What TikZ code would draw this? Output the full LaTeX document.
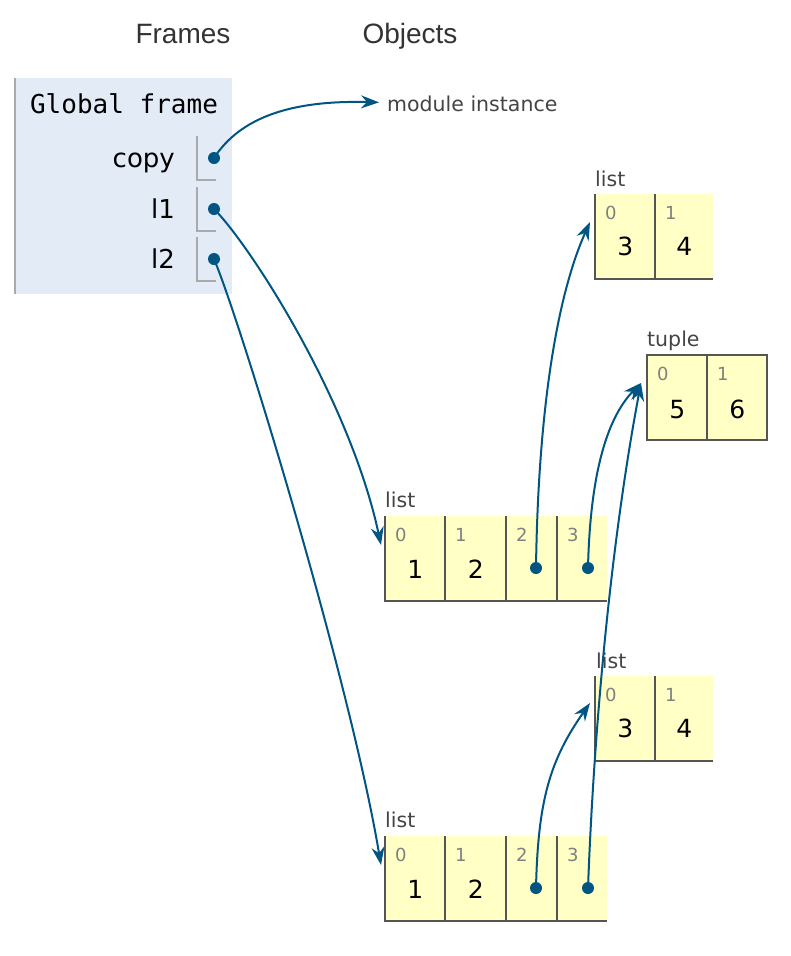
\documentclass[tikz,border=0pt]{standalone}
\usepackage{fontspec}
\setmainfont{DejaVu Sans}
\setmonofont{DejaVu Sans Mono}
\newfontfamily\headfont{Liberation Sans}
\usepackage{tikz}
\usetikzlibrary{positioning}
\usetikzlibrary{arrows.meta,calc}

\definecolor{framebg}{HTML}{E2EBF6}
\definecolor{cellbg}{HTML}{FFFFC6}
\definecolor{cellline}{HTML}{555555}
\definecolor{slotline}{HTML}{AAAAAA}
\definecolor{idxgray}{HTML}{808080}
\definecolor{typegray}{HTML}{444444}
\definecolor{ptrblue}{HTML}{005583}

\begin{document}
\begin{tikzpicture}[x=1pt, y=-1pt,
    every node/.style={inner sep=0pt},
    heading/.style={font=\headfont\fontsize{28}{32}\selectfont, text=black!80, anchor=base},
    varname/.style={font=\fontsize{26}{30}\selectfont, anchor=base east},
    typelabel/.style={font=\fontsize{20.5}{24}\selectfont, text=typegray, anchor=base west},
    cell/.style={fill=cellbg, minimum height=85pt, anchor=north west},
    idx/.style={font=\fontsize{18}{20}\selectfont, text=idxgray, anchor=base west},
    val/.style={font=\fontsize{25}{28}\selectfont, anchor=base},
    dot/.style={circle, fill=ptrblue, minimum size=12pt},
    box/.style={cellline, line width=2pt},
    ref/.style={ptrblue, line width=2pt, -{Stealth[length=18pt,width=13pt,inset=6pt]}}]
  \useasboundingbox (0,0) rectangle (790,956);

  % headings
  \node[heading] (frames) at (183,43) {Frames};
  \node[heading] (objects) at (410,43) {Objects};

  % global frame
  \fill[framebg] (14,78) rectangle (232,294);
  \draw[slotline, line width=2pt] (15,78) -- (15,294);
  \node[anchor=base, font=\ttfamily\fontsize{26}{30}\selectfont] (gframe) at (124,113) {Global frame};
  \foreach \n/\yy in {copy/158, l1/209, l2/259} {
    \node[varname] (v\n) at (175,\yy+9.5) {\n};
    \draw[slotline, line width=1.5pt] (197,\yy-22) |- (216,\yy+22);
    \node[dot] (p\n) at (214,\yy) {};
  }

  \node[typelabel] (mod) at (387,111) {module instance};

  % list [3,4] (top)
  \foreach \i/\xx/\w/\v in {0/595/60/3, 1/655/58/4} {
    \node[cell, minimum width=\w pt] (a\i) at (\xx,194) {};
    \node[idx] (ai\i) at ($(a\i.north west)+(10,25)$) {\i};
    \node[val] (av\i) at ($(a\i.north)+(0,61)$) {\v};
  }
  \node[typelabel] (alabel) at ($(a0.north west)+(0,-8)$) {list};
  \draw[box] (a0.north west) -- (a0.south west) -- (a1.south east);
  \draw[box] (a1.north west) -- (a1.south west);

  % tuple (5,6)
  \foreach \i/\xx/\v in {0/647/5, 1/707/6} {
    \node[cell, minimum width=60pt] (t\i) at (\xx,355) {};
    \node[idx] (ti\i) at ($(t\i.north west)+(10,25)$) {\i};
    \node[val] (tv\i) at ($(t\i.north)+(0,63)$) {\v};
  }
  \node[typelabel] (tlabel) at ($(t0.north west)+(0,-9)$) {tuple};
  \draw[box] (t0.north west) rectangle (t1.south east);
  \draw[box] (t1.north west) -- (t1.south west);

  % list l1
  \foreach \i/\xx/\w in {0/385/60, 1/445/61, 2/506/51, 3/557/50} {
    \node[cell, minimum width=\w pt] (b\i) at (\xx,516) {};
    \node[idx] (bi\i) at ($(b\i.north west)+(10,25)$) {\i};
  }
  \node[val] (bv0) at ($(b0.north)+(0,62)$) {1};
  \node[val] (bv1) at ($(b1.north)+(0,62)$) {2};
  \node[dot] (bp2) at ($(b2.north west)+(30,52)$) {};
  \node[dot] (bp3) at ($(b3.north west)+(31,52)$) {};
  \node[typelabel] (blabel) at ($(b0.north west)+(0,-9)$) {list};
  \draw[box] (b0.north west) -- (b0.south west) -- (b3.south east);
  \foreach \i in {1,2,3}
    \draw[box] (b\i.north west) -- (b\i.south west);

  % list [3,4] (lower)
  \foreach \i/\xx/\w/\v in {0/595/60/3, 1/655/58/4} {
    \node[cell, minimum width=\w pt] (c\i) at (\xx,676) {};
    \node[idx] (ci\i) at ($(c\i.north west)+(10,25)$) {\i};
    \node[val] (cv\i) at ($(c\i.north)+(0,61)$) {\v};
  }
  \node[typelabel] (clabel) at ($(c0.north west)+(1,-8)$) {list};
  \draw[box] (c0.north west) -- (c0.south west) -- (c1.south east);
  \draw[box] (c1.north west) -- (c1.south west);

  % list l2
  \foreach \i/\xx/\w in {0/385/60, 1/445/61, 2/506/51, 3/557/50} {
    \node[cell, minimum width=\w pt] (d\i) at (\xx,836) {};
    \node[idx] (di\i) at ($(d\i.north west)+(10,25)$) {\i};
  }
  \node[val] (dv0) at ($(d0.north)+(0,62)$) {1};
  \node[val] (dv1) at ($(d1.north)+(0,62)$) {2};
  \node[dot] (dp2) at ($(d2.north west)+(30,52)$) {};
  \node[dot] (dp3) at ($(d3.north west)+(31,52)$) {};
  \node[typelabel] (dlabel) at ($(d0.north west)+(0,-9)$) {list};
  \draw[box] (d0.north west) -- (d0.south west) -- (d3.south east);
  \foreach \i in {1,2,3}
    \draw[box] (d\i.north west) -- (d\i.south west);

  % pointers
  \coordinate (modtip) at ($(mod.west)+(-8,-1)$);
  \coordinate (atip) at ($(a0.north west)+(-5,28)$);
  \coordinate (ttip) at ($(t0.north west)+(-6,28)$);
  \coordinate (btip) at ($(b0.north west)+(-4,29)$);
  \coordinate (ctip) at ($(c0.north west)+(-5,27)$);
  \coordinate (dtip) at ($(d0.north west)+(-4,29)$);
  \draw[ref] (pcopy.center) .. controls (240,118) and (290,100) .. (modtip);
  \draw[ref] (pl1.center) .. controls (250,245) and (350,400) .. (btip);
  \draw[ref] (pl2.center) .. controls (240,320) and (350,680) .. (dtip);
  \draw[ref] (bp2.center) .. controls (538,420) and (555,300) .. (atip);
  \draw[ref] (bp3.center) .. controls (590,480) and (605,420) .. (ttip);
  \draw[ref] (dp2.center) .. controls (538,800) and (550,760) .. (ctip);
  \draw[ref] (dp3.center) .. controls (595,700) and (615,520) .. (ttip);
\end{tikzpicture}
\end{document}
